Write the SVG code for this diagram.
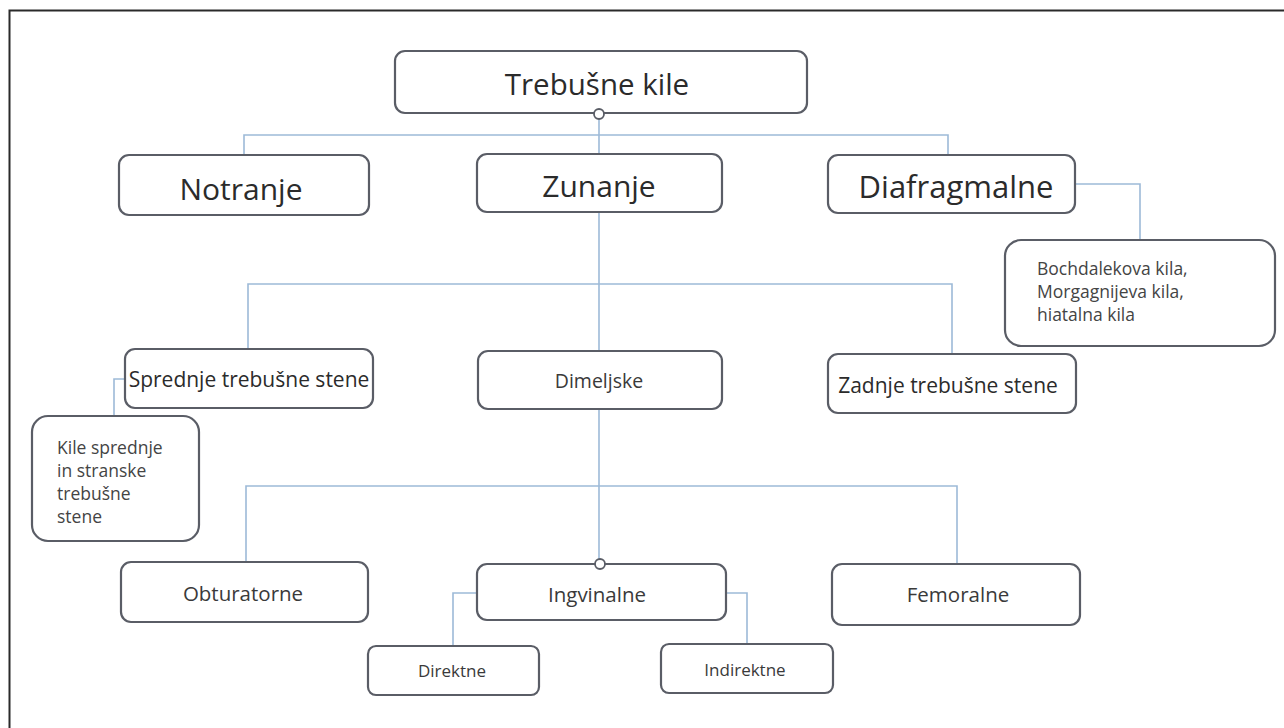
<svg xmlns="http://www.w3.org/2000/svg" width="1284" height="728" viewBox="0 0 1284 728">
<style>
.box{fill:#fff;stroke:#5a5d66;stroke-width:2.2}
.t{font-family:"Open Sans","Liberation Sans",sans-serif;fill:#2b2b2b;text-anchor:middle;dominant-baseline:central}
.m{font-family:"Open Sans","Liberation Sans",sans-serif;fill:#3a3a3a;font-weight:500;text-anchor:middle;dominant-baseline:central}
.s{font-family:"Open Sans","Liberation Sans",sans-serif;fill:#444;font-weight:500;dominant-baseline:central}
.c{fill:none;stroke:#9dbad8;stroke-width:1.6}
</style>
<rect width="1284" height="728" fill="#fff"/>
<path d="M9.5 728 V10.5 H1284" fill="none" stroke="#2a2a2a" stroke-width="2"/>
<g id="connectors">
<path class="c" d="M599 118 V154"/>
<path class="c" d="M244 155 V135 H948 V155"/>
<path class="c" d="M1075 184 H1140 V240"/>
<path class="c" d="M599 212 V351"/>
<path class="c" d="M248 349 V284 H952 V354"/>
<path class="c" d="M125 379 H114 V416"/>
<path class="c" d="M599 409 V559"/>
<path class="c" d="M246 562 V486 H957 V564"/>
<path class="c" d="M477 593 H453 V646"/>
<path class="c" d="M726 593 H747 V644"/>
</g>
<g id="n-trebusne">
<rect class="box" x="395" y="51" width="412" height="62" rx="10"/>
<text class="t" x="597" y="83" font-size="29.5">Trebušne kile</text>
<circle cx="599" cy="114" r="5" fill="#fff" stroke="#5a5d66" stroke-width="1.8"/>
</g>
<g id="n-notranje">
<rect class="box" x="119" y="155" width="250" height="60" rx="10"/>
<text class="t" x="241" y="188" font-size="30">Notranje</text>
</g>
<g id="n-zunanje">
<rect class="box" x="477" y="154" width="245" height="58" rx="10"/>
<text class="t" x="599" y="185" font-size="30">Zunanje</text>
</g>
<g id="n-diafragmalne">
<rect class="box" x="828" y="155" width="247" height="58" rx="10"/>
<text class="t" x="956" y="186" font-size="31">Diafragmalne</text>
</g>
<g id="n-bochdalek">
<rect class="box" x="1005" y="240" width="270" height="106" rx="16"/>
<text class="s" x="1037" y="268" font-size="17.5">Bochdalekova kila,</text>
<text class="s" x="1037" y="291" font-size="17.5">Morgagnijeva kila,</text>
<text class="s" x="1037" y="314" font-size="17.5">hiatalna kila</text>
</g>
<g id="n-sprednje">
<rect class="box" x="125" y="349" width="248" height="59" rx="10"/>
<text class="t" x="249" y="379" font-size="21">Sprednje trebušne stene</text>
</g>
<g id="n-kile">
<rect class="box" x="32" y="416" width="167" height="125" rx="16"/>
<text class="s" x="57" y="447" font-size="17.5">Kile sprednje</text>
<text class="s" x="57" y="470" font-size="17.5">in stranske</text>
<text class="s" x="57" y="493" font-size="17.5">trebušne</text>
<text class="s" x="57" y="516" font-size="17.5">stene</text>
</g>
<g id="n-dimeljske">
<rect class="box" x="478" y="351" width="244" height="58" rx="10"/>
<text class="m" x="599" y="380" font-size="19.5">Dimeljske</text>
</g>
<g id="n-zadnje">
<rect class="box" x="828" y="354" width="248" height="59" rx="10"/>
<text class="t" x="948" y="385" font-size="21">Zadnje trebušne stene</text>
</g>
<g id="n-obturatorne">
<rect class="box" x="121" y="562" width="247" height="60" rx="10"/>
<text class="m" x="243" y="593" font-size="20.5">Obturatorne</text>
</g>
<g id="n-ingvinalne">
<rect class="box" x="477" y="564" width="249" height="56" rx="10"/>
<text class="m" x="597" y="594" font-size="20.5">Ingvinalne</text>
<circle cx="600" cy="564" r="5" fill="#fff" stroke="#5a5d66" stroke-width="1.8"/>
</g>
<g id="n-femoralne">
<rect class="box" x="832" y="564" width="248" height="61" rx="10"/>
<text class="m" x="958" y="594" font-size="20.5">Femoralne</text>
</g>
<g id="n-direktne">
<rect class="box" x="368" y="646" width="171" height="49" rx="8"/>
<text class="m" x="452" y="670" font-size="17">Direktne</text>
</g>
<g id="n-indirektne">
<rect class="box" x="661" y="644" width="172" height="49" rx="8"/>
<text class="m" x="745" y="669" font-size="17">Indirektne</text>
</g>
</svg>
